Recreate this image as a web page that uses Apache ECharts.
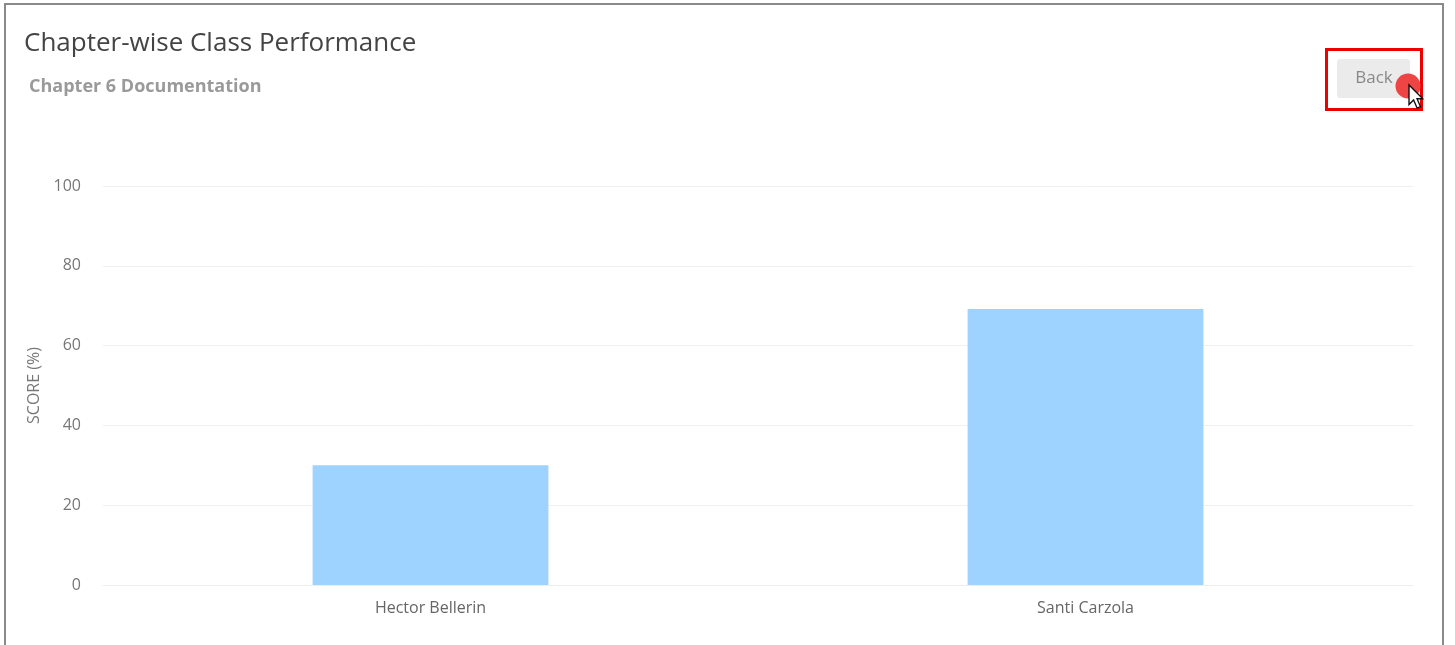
<!DOCTYPE html>
<html>
<head>
<meta charset="utf-8">
<script src="https://cdn.jsdelivr.net/npm/echarts@6/dist/echarts.min.js"></script>
<style>
html,body{margin:0;padding:0;background:#fff;overflow:hidden;}
#chart{position:absolute;left:0;top:0;width:1455px;height:645px;}
#frame{position:absolute;left:4px;top:3px;width:1440px;height:700px;border:2px solid #8a8a8a;pointer-events:none;box-sizing:border-box;}
</style>
</head>
<body>
<div id="chart"></div>
<div id="frame"></div>
<script>
const categories = ['Hector Bellerin', 'Santi Carzola'];
const scores = [30, 69.2];
const yTicks = { min: 0, max: 100, interval: 20 };

const FONT = '"Open Sans", "Noto Sans", sans-serif';
const chart = echarts.init(document.getElementById('chart'));
chart.setOption({
  animation: false,
  title: [
    { text: 'Chapter-wise Class Performance', left: 19, top: 26, padding: 5,
      textStyle: { fontSize: 26, fontWeight: 'normal', color: '#444', fontFamily: FONT } },
    { text: 'Chapter 6 Documentation', left: 24, top: 72.5, padding: 5,
      textStyle: { fontSize: 18, fontWeight: 'bold', color: '#9a9a9a', fontFamily: FONT } }
  ],
  grid: { left: 103, right: 42, top: 186, bottom: 60, containLabel: false },
  xAxis: {
    type: 'category', data: categories,
    axisLine: { show: true, lineStyle: { color: '#eeeeee' } },
    axisTick: { show: false },
    axisLabel: { color: '#666', fontSize: 16, fontFamily: FONT, margin: 15 }
  },
  yAxis: {
    type: 'value', min: yTicks.min, max: yTicks.max, interval: yTicks.interval,
    name: 'SCORE (%)', nameLocation: 'middle', nameGap: 58, nameRotate: 90,
    nameTextStyle: { color: '#777', fontSize: 16, fontFamily: FONT },
    axisLine: { show: false }, axisTick: { show: false },
    axisLabel: { color: '#777', fontSize: 16, fontFamily: FONT, margin: 22 },
    splitLine: { lineStyle: { color: '#f0f0f0' } }
  },
  series: [{
    type: 'bar', data: scores, barWidth: '36%',
    itemStyle: { color: '#9fd3ff' }
  }],
  graphic: [
    { type: 'rect', shape: { x: 1326.5, y: 49.5, width: 95, height: 60 },
      style: { fill: 'none', stroke: '#ee0000', lineWidth: 3 }, z: 10 },
    { type: 'rect', shape: { x: 1337, y: 59, width: 73, height: 39, r: 3 },
      style: { fill: '#ebebeb' }, z: 11 },
    { type: 'text', x: 1374, y: 78,
      style: { text: 'Back', fill: '#888', fontSize: 17, fontFamily: FONT, align: 'center', verticalAlign: 'middle' }, z: 12 },
    { type: 'circle', shape: { cx: 1408, cy: 86, r: 12.5 },
      style: { fill: '#ee4444' }, z: 13 },
    { type: 'polygon', x: 1409, y: 85, scaleX: 1.15, scaleY: 1.15,
      shape: { points: [[0,0],[0,17],[4,13],[7,20],[10,19],[7,12],[12,12]] },
      style: { fill: '#ffffff', stroke: '#111', lineWidth: 1.2 }, z: 14 }
  ]
});
</script>
</body>
</html>
